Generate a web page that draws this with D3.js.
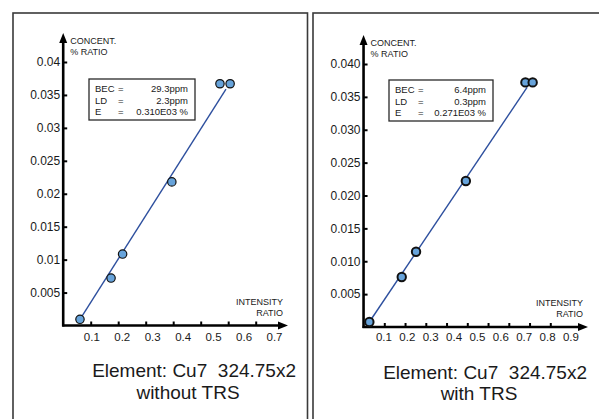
<!DOCTYPE html>
<html lang="en">
<head>
<meta charset="utf-8">
<title>Cu7 calibration</title>
<script src="https://d3js.org/d3.v7.min.js"></script>
<style>
  body { margin: 0; background: #fff; }
  text { font-family: "Liberation Sans", Arial, sans-serif; fill: #1a1a1a; }
</style>
</head>
<body>
<script>
// left panel: without TRS
var leftPoints = [[0.061, 0.00094], [0.174, 0.0072], [0.216, 0.01085], [0.395, 0.0218], [0.570, 0.0367], [0.607, 0.0367]];
var leftFit = [[0.061, 0.00094], [0.592, 0.0359]];
var leftXTicks = [0.1, 0.2, 0.3, 0.4, 0.5, 0.6, 0.7];
var leftXLabels = ["0.1", "0.2", "0.3", "0.4", "0.5", "0.6", "0.7"];
var leftYTicks = [0.005, 0.01, 0.015, 0.02, 0.025, 0.03, 0.035, 0.04];
var leftYLabels = ["0.005", "0.01", "0.015", "0.02", "0.025", "0.03", "0.035", "0.04"];
var leftStats = [["BEC", "=", "29.3ppm"], ["LD", "=", "2.3ppm"], ["E", "=", "0.310E03 %"]];
var leftTitle = ["Element: Cu7  324.75x2", "without TRS"];

// right panel: with TRS
var rightPoints = [[0.028, 0.00076], [0.184, 0.0076], [0.253, 0.01145], [0.493, 0.0222], [0.780, 0.0372], [0.815, 0.0372]];
var rightFit = [[0.028, 0.00076], [0.788, 0.03646]];
var rightXTicks = [0.1, 0.2, 0.3, 0.4, 0.5, 0.6, 0.7, 0.8, 0.9];
var rightXLabels = ["0.1", "0.2", "0.3", "0.4", "0.5", "0.6", "0.7", "0.8", "0.9"];
var rightYTicks = [0.005, 0.01, 0.015, 0.02, 0.025, 0.03, 0.035, 0.04];
var rightYLabels = ["0.005", "0.010", "0.015", "0.020", "0.025", "0.030", "0.035", "0.040"];
var rightStats = [["BEC", "=", "6.4ppm"], ["LD", "=", "0.3ppm"], ["E", "=", "0.271E03 %"]];
var rightTitle = ["Element: Cu7  324.75x2", "with TRS"];

var w = 599, h = 419;

var svg = d3.select("body").append("svg")
    .attr("width", w)
    .attr("height", h);

function drawPanel(o) {
  var g = svg.append("g");

  // frame
  g.append("rect")
    .attr("x", o.frame[0]).attr("y", o.frame[1])
    .attr("width", o.frame[2]).attr("height", o.frame[3])
    .attr("fill", "none").attr("stroke", "#3a3a3a").attr("stroke-width", 1.6);

  var x = d3.scaleLinear().domain([0, 1]).range(o.xRange);
  var xl = d3.scaleLinear().domain([0, 1]).range(o.xLabRange);
  var y = d3.scaleLinear().domain([0, 0.04]).range(o.yRange);

  var x0 = x(0), y0 = y(0);

  // y ticks + labels
  var yAxis = d3.axisLeft(y)
    .tickValues(o.yTicks)
    .tickFormat(function(d, i) { return o.yLabels[i]; })
    .tickSizeInner(-4).tickSizeOuter(0).tickPadding(3);
  var ya = g.append("g").attr("transform", "translate(" + x0 + ",0)").call(yAxis);
  ya.select(".domain").remove();
  ya.selectAll("line").attr("stroke", "#000").attr("stroke-width", 2);
  ya.selectAll("text").attr("font-size", "12px").attr("fill", "#1a1a1a")
    .attr("font-family", "Liberation Sans, Arial, sans-serif");

  // x ticks
  var xAxis = d3.axisBottom(x)
    .tickValues(o.xTicks).tickFormat("")
    .tickSizeInner(-4).tickSizeOuter(0);
  var xa = g.append("g").attr("transform", "translate(0," + y0 + ")").call(xAxis);
  xa.select(".domain").remove();
  xa.selectAll("line").attr("stroke", "#000").attr("stroke-width", 2);

  // x labels (drawn slightly wider than the ticks, as in the original)
  var xLabAxis = d3.axisBottom(xl)
    .tickValues(o.xTicks)
    .tickFormat(function(d, i) { return o.xLabels[i]; })
    .tickSize(0).tickPadding(o.xLabPad);
  var xla = g.append("g").attr("transform", "translate(0," + y0 + ")").call(xLabAxis);
  xla.select(".domain").remove();
  xla.selectAll("text").attr("font-size", "11.5px").attr("fill", "#1a1a1a")
    .attr("font-family", "Liberation Sans, Arial, sans-serif");

  // axis lines with arrows
  g.append("line").attr("x1", x0).attr("y1", y0 + 1).attr("x2", x0).attr("y2", o.yTip + 8)
    .attr("stroke", "#000").attr("stroke-width", 2.6);
  g.append("path")
    .attr("d", "M" + x0 + "," + o.yTip + "L" + (x0 - 4) + "," + (o.yTip + 10) + "L" + (x0 + 4) + "," + (o.yTip + 10) + "Z")
    .attr("fill", "#000");
  g.append("line").attr("x1", x0 - 1).attr("y1", y0).attr("x2", o.xTip - 8).attr("y2", y0)
    .attr("stroke", "#000").attr("stroke-width", 2.6);
  g.append("path")
    .attr("d", "M" + o.xTip + "," + y0 + "L" + (o.xTip - 10) + "," + (y0 - 4) + "L" + (o.xTip - 10) + "," + (y0 + 4) + "Z")
    .attr("fill", "#000");

  // axis titles
  g.append("text").attr("x", x0 + 7).attr("y", o.yTip + 11).attr("font-size", "9px").text("CONCENT.");
  g.append("text").attr("x", x0 + 7).attr("y", o.yTip + 22).attr("font-size", "9px").text("% RATIO");
  g.append("text").attr("x", o.xTip - 5).attr("y", y0 - 21).attr("font-size", "9px")
    .attr("text-anchor", "end").text("INTENSITY");
  g.append("text").attr("x", o.xTip - 5).attr("y", y0 - 10).attr("font-size", "9px")
    .attr("text-anchor", "end").text("RATIO");

  // stats box
  var b = o.box;
  g.append("rect").attr("x", b[0]).attr("y", b[1]).attr("width", b[2]).attr("height", b[3])
    .attr("fill", "#fff").attr("stroke", "#2a2a2a").attr("stroke-width", 1.3);
  o.stats.forEach(function(s, i) {
    var ty = b[1] + 13 + i * 11.5;
    g.append("text").attr("x", b[0] + 6).attr("y", ty).attr("font-size", "9.5px").text(s[0]);
    g.append("text").attr("x", b[0] + 29).attr("y", ty).attr("font-size", "9.5px").text(s[1]);
    g.append("text").attr("x", b[0] + b[2] - 7).attr("y", ty).attr("font-size", "9.5px")
      .attr("text-anchor", "end").text(s[2]);
  });

  // fit line
  g.append("path")
    .datum(o.fit)
    .attr("d", d3.line().x(function(d) { return x(d[0]); }).y(function(d) { return y(d[1]); }))
    .attr("fill", "none").attr("stroke", "#2d4f9e").attr("stroke-width", 1.4);

  // points
  g.selectAll("circle")
    .data(o.points)
    .enter()
    .append("circle")
    .attr("cx", function(d) { return x(d[0]); })
    .attr("cy", function(d) { return y(d[1]); })
    .attr("r", 4.2)
    .attr("fill", "#67a3da")
    .attr("stroke", "#111")
    .attr("stroke-width", o.ptStroke);

  // caption
  g.append("text").attr("x", o.title1[0]).attr("y", o.title1[1]).attr("font-size", "19px")
    .attr("text-anchor", "end").style("white-space", "pre").text(o.title[0]);
  g.append("text").attr("x", o.title2[0]).attr("y", o.title2[1]).attr("font-size", "19px")
    .attr("text-anchor", "middle").text(o.title[1]);
}

drawPanel({
  frame: [13, 13, 294.5, 420],
  xRange: [63.2, 338.2], xLabRange: [60.85, 365.35], xLabPad: 7,
  yRange: [325.5, 62],
  yTip: 33, xTip: 288,
  points: leftPoints, fit: leftFit,
  xTicks: leftXTicks, xLabels: leftXLabels,
  yTicks: leftYTicks, yLabels: leftYLabels,
  stats: leftStats, box: [89, 79, 106, 41],
  ptStroke: 1.2,
  title: leftTitle, title1: [296, 377], title2: [188, 399]
});

drawPanel({
  frame: [313, 13, 300, 420],
  xRange: [363.55, 571.05], xLabRange: [360.1, 593.85], xLabPad: 6,
  yRange: [327, 64],
  yTip: 35, xTip: 588,
  points: rightPoints, fit: rightFit,
  xTicks: rightXTicks, xLabels: rightXLabels,
  yTicks: rightYTicks, yLabels: rightYLabels,
  stats: rightStats, box: [389, 80, 104, 41],
  ptStroke: 2,
  title: rightTitle, title1: [587, 379], title2: [479, 400]
});
</script>
</body>
</html>
